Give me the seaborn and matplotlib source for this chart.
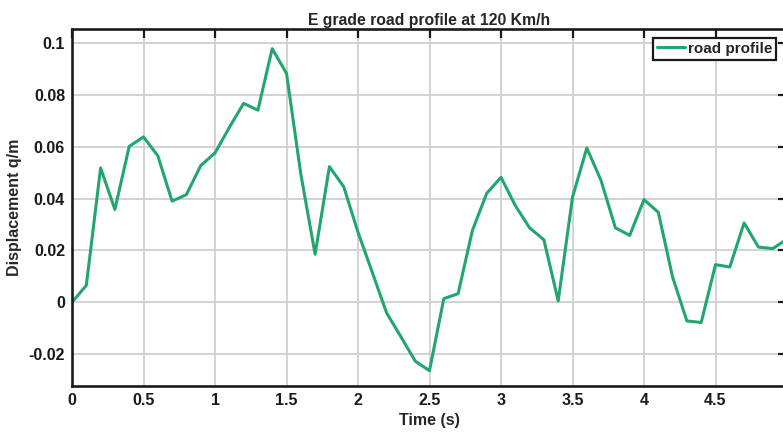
import numpy as np
import pandas as pd
import matplotlib
matplotlib.use("Agg")
import matplotlib.pyplot as plt
import seaborn as sns
from matplotlib.ticker import FuncFormatter

time_s = [0.0, 0.1, 0.2, 0.3, 0.4, 0.5, 0.6, 0.7, 0.8, 0.9,
          1.0, 1.1, 1.2, 1.3, 1.4, 1.5, 1.6, 1.7, 1.8, 1.9,
          2.0, 2.1, 2.2, 2.3, 2.4, 2.5, 2.6, 2.7, 2.8, 2.9,
          3.0, 3.1, 3.2, 3.3, 3.4, 3.5, 3.6, 3.7, 3.8, 3.9,
          4.0, 4.1, 4.2, 4.3, 4.4, 4.5, 4.6, 4.7, 4.8, 4.9, 5.0]
displacement = [0.0, 0.0065, 0.0518, 0.0358, 0.0601, 0.0638, 0.0565, 0.0390, 0.0415, 0.0527,
                0.0576, 0.0674, 0.0767, 0.0741, 0.0978, 0.0883, 0.0495, 0.0185, 0.0523, 0.0446,
                0.0270, 0.0115, -0.0041, -0.0133, -0.0227, -0.0264, 0.0014, 0.0033, 0.0277, 0.0420,
                0.0482, 0.0373, 0.0287, 0.0241, 0.0005, 0.0405, 0.0595, 0.0469, 0.0287, 0.0258,
                0.0396, 0.0347, 0.0097, -0.0072, -0.0078, 0.0145, 0.0136, 0.0306, 0.0213, 0.0207, 0.0243]
x_ticks = [0, 0.5, 1, 1.5, 2, 2.5, 3, 3.5, 4, 4.5, 5]
y_ticks = [-0.02, 0, 0.02, 0.04, 0.06, 0.08, 0.1]

df = pd.DataFrame({"Time (s)": time_s, "Displacement q/m": displacement})

sns.set_style("white")
plt.rcParams['font.family'] = ['Liberation Sans', 'DejaVu Sans']
plt.rcParams['font.weight'] = 'bold'

fig = plt.figure(figsize=(7.83, 4.32), dpi=100)
# right edge of the axes sits just past the picture, as in the reference
ax = fig.add_axes([72 / 783, 46 / 432, 715 / 783, 357 / 432])

line_color = '#22a66f'
sns.lineplot(data=df, x="Time (s)", y="Displacement q/m", ax=ax,
             color=line_color, linewidth=2.2, label="road profile")

ax.set_xlim(0, 5)
ax.set_ylim(-0.0323, 0.1054)
ax.set_xticks(x_ticks)
ax.set_yticks(y_ticks)
fmt = FuncFormatter(lambda v, p: "%g" % round(v, 4))
ax.xaxis.set_major_formatter(fmt)
ax.yaxis.set_major_formatter(fmt)

ax.grid(True, color='#cfcfcf', linewidth=1.3)
ax.set_axisbelow(True)
for s in ax.spines.values():
    s.set_visible(True)
    s.set_color('#1a1a1a')
    s.set_linewidth(1.9)
ax.tick_params(direction='in', length=6.5, width=1.6, top=True, right=True,
               labelsize=11.5, colors='#1a1a1a', pad=5)
for lab in ax.get_xticklabels() + ax.get_yticklabels():
    lab.set_fontweight('bold')

ax.set_title("E grade road profile at 120 Km/h", fontsize=11.3, fontweight='bold', pad=3)
ax.set_xlabel("Time (s)", fontsize=11.5, fontweight='bold', labelpad=4)
ax.set_ylabel("Displacement q/m", fontsize=11.5, fontweight='bold', labelpad=5)

leg = ax.legend(loc='upper right', bbox_to_anchor=(776 / 783, 394 / 432),
                bbox_transform=fig.transFigure, borderaxespad=0,
                fancybox=False, framealpha=1, edgecolor='#1a1a1a',
                handlelength=1.8, handletextpad=0.2, borderpad=0.25,
                prop={'size': 11, 'weight': 'bold'})
leg.get_frame().set_linewidth(1.6)

fig.savefig("out.png", dpi=100)
